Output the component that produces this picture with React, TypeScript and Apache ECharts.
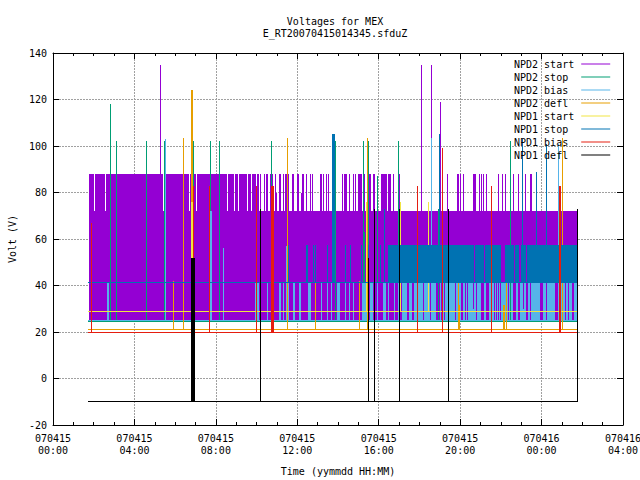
import React, { useEffect, useRef } from "react";
import * as echarts from "echarts";

const titleLines = ["Voltages for MEX", "E_RT20070415014345.sfduZ"];
const xName = "Time (yymmdd HH:MM)";
const yName = "Volt (V)";
const xTickDates = ["070415", "070415", "070415", "070415", "070415", "070415", "070416", "070416"];
const xTickTimes = ["00:00", "04:00", "08:00", "12:00", "16:00", "20:00", "00:00", "04:00"];
const timeStart = 1.72;
const timeEnd = 25.79;

// Hours since 070415 00:00; spikes are [t, top volts], blocks are [t0, t1, top volts].
const npd2StartSpikes = [[5.26, 135], [18.08, 135], [18.57, 135], [19.01, 119], [12.2, 80], [10.93, 80]];
const npd2StartBlocks = [
  [1.77, 25.74, 72],
  [1.77, 2.01, 88], [2.06, 2.55, 88], [2.6, 5.4, 88], [5.45, 6.68, 88], [6.73, 7.02, 88], [7.07, 8.55, 88],
  [8.6, 8.89, 88], [8.94, 9.09, 88], [9.14, 9.53, 88], [9.58, 9.73, 88], [9.77, 9.97, 88], [10.02, 10.12, 88],
  [10.17, 10.22, 88], [10.36, 10.41, 88], [10.46, 10.56, 88], [10.66, 10.81, 88], [10.9, 10.95, 88],
  [11.1, 11.2, 88], [11.3, 11.35, 88], [11.4, 11.59, 88], [11.74, 11.84, 88], [11.99, 12.08, 88],
  [12.23, 12.33, 88], [12.43, 12.48, 88], [12.62, 12.67, 88], [12.72, 12.77, 88], [13.12, 13.21, 88],
  [13.26, 13.31, 88], [13.41, 13.46, 88], [13.51, 13.56, 88], [13.8, 13.85, 88], [14.2, 14.24, 88],
  [14.29, 14.44, 88], [14.54, 14.59, 88], [14.74, 14.79, 88], [14.83, 14.88, 88], [14.98, 15.18, 88],
  [15.23, 15.33, 88], [15.42, 15.47, 88], [15.52, 15.62, 88], [15.72, 15.82, 88], [16.11, 16.41, 88],
  [16.46, 16.6, 88], [16.7, 16.75, 88], [16.95, 17.04, 88], [19.35, 19.4, 88], [19.84, 19.94, 88],
  [19.99, 20.04, 88], [20.14, 20.19, 88], [20.63, 20.78, 88], [20.92, 20.97, 88], [21.02, 21.07, 88],
  [21.12, 21.17, 88], [21.27, 21.32, 88], [21.86, 21.91, 88], [22.05, 22.1, 88], [22.2, 22.25, 88],
  [22.59, 22.64, 88], [22.84, 22.89, 88], [23.18, 23.23, 88], [23.43, 23.53, 88],
];
const npd2StopSpikes = [
  [2.8, 118], [3.09, 102], [4.57, 102], [5.45, 102], [6.88, 102], [7.71, 102], [8.15, 102], [10.71, 102],
  [13.85, 102], [15.23, 102], [15.28, 63], [15.47, 102], [15.91, 87], [16.95, 102], [18.91, 73], [22.45, 102],
];
const npd2BiasSpikes = [[5.5, 103], [8.35, 56], [11.49, 88], [18.57, 103.5], [24.81, 101]];
const npd2BiasBlocks = [
  [2.65, 2.75, 41], [7.71, 7.81, 72], [11.44, 11.59, 57],
  [9.92, 10.12, 41], [10.51, 10.56, 41], [11.1, 11.2, 41], [11.3, 11.35, 41], [11.79, 11.89, 41],
  [12.08, 12.18, 41], [12.53, 12.67, 41], [13.16, 13.21, 41], [13.46, 13.51, 41], [13.66, 13.7, 41],
  [13.95, 14.1, 41], [14.34, 14.39, 41], [14.54, 14.59, 41], [14.74, 14.79, 41], [15.18, 15.42, 41],
  [15.57, 15.72, 41], [15.91, 15.96, 41], [16.21, 16.36, 41], [16.46, 16.5, 41], [16.75, 16.8, 41],
  [16.95, 17.0, 41], [17.14, 17.39, 41], [17.49, 17.63, 41], [17.73, 18.17, 41], [18.22, 18.52, 41],
  [18.57, 18.81, 41], [19.01, 19.06, 41], [19.11, 19.21, 41], [19.26, 19.75, 41], [19.8, 20.04, 41],
  [20.14, 20.24, 41], [20.29, 20.34, 41], [20.38, 20.63, 41], [20.68, 20.78, 41], [20.63, 20.68, 30],
  [20.83, 21.02, 41], [21.17, 21.27, 41], [21.42, 21.66, 41], [21.71, 21.76, 41], [21.81, 21.86, 41],
  [21.91, 21.96, 41], [22.01, 22.35, 41], [22.4, 22.45, 41], [22.5, 22.59, 41], [22.74, 22.84, 41],
  [22.94, 23.09, 41], [23.09, 23.14, 30], [23.14, 23.23, 41], [23.33, 23.43, 41], [23.48, 23.92, 41],
  [24.07, 24.22, 41], [24.27, 24.66, 41], [24.81, 25.15, 41], [25.2, 25.3, 41], [25.35, 25.49, 41],
  [25.59, 25.74, 41],
];
const npd2DeflSpikes = [
  [5.89, 42], [6.39, 103.5], [11.49, 103.5], [12.87, 42], [15.03, 42], [15.42, 103.5], [19.89, 41], [22.25, 41], [25.0, 103.5],
];
const npd2DeflBlocks = [[6.78, 6.88, 124], [19.89, 19.99, 31.5], [22.1, 22.2, 31.5]];
const npd1StartSpikes = [[15.37, 76], [17.04, 76], [18.42, 76]];
const npd1StartBlocks = [[6.78, 6.88, 76]];
const npd1StopSpikes = [
  [10.71, 57.4], [11.54, 57.4], [12.77, 57.4], [12.87, 57.4], [13.46, 57.4], [14.34, 57.4], [14.59, 57.4], [15.13, 57.4],
  [15.47, 57.4], [16.06, 57.4], [16.26, 73], [18.96, 105], [23.04, 103], [23.73, 89], [24.22, 101],
];
const npd1StopBlocks = [
  [12.43, 12.53, 57.4], [13.7, 13.85, 105], [16.46, 20.68, 57.4], [20.73, 21.17, 57.4], [21.22, 22.01, 57.4],
  [22.2, 22.64, 57.4], [22.69, 22.89, 57.4], [22.99, 23.23, 57.4], [23.28, 25.79, 57.4],
];
const npd1BiasSpikes = [[1.87, 67], [6.88, 83], [7.66, 83], [9.97, 83], [17.88, 83], [19.11, 99], [21.51, 83]];
const npd1BiasBlocks = [[10.71, 10.86, 83], [24.85, 24.95, 83]];
const npd1DeflSpikes = [[10.17, 73], [15.47, 52], [15.77, 73], [17.0, 73], [19.4, 73], [25.74, 73]];
const npd1DeflBlocks = [[6.78, 6.98, 52]];

const seriesNames = ["NPD2 start", "NPD2 stop", "NPD2 bias", "NPD2 defl", "NPD1 start", "NPD1 stop", "NPD1 bias", "NPD1 defl"];
const seriesColors = ["#9400d3", "#009e73", "#56b4e9", "#e69f00", "#f0e442", "#0072b2", "#e51e10", "#000000"];
const seriesBases = [25.2, 24.7, 25.2, 21.3, 29, 41.5, 20, -9.7];
const seriesSpikes = [npd2StartSpikes, npd2StopSpikes, npd2BiasSpikes, npd2DeflSpikes, npd1StartSpikes, npd1StopSpikes, npd1BiasSpikes, npd1DeflSpikes];
const seriesBlocks = [npd2StartBlocks, [], npd2BiasBlocks, npd2DeflBlocks, npd1StartBlocks, npd1StopBlocks, npd1BiasBlocks, npd1DeflBlocks];

const FONT = "'DejaVu Sans Mono', monospace";

const renderMark = (_: any, api: any) => {
  const a = api.coord([api.value(0), api.value(3)]);
  const b = api.coord([api.value(1), api.value(2)]);
  const x0 = Math.round(a[0]);
  const x1 = Math.round(b[0]);
  const y0 = Math.round(a[1]);
  const y1 = Math.round(b[1]);
  return {
    type: "rect",
    shape: { x: x0, y: y0, width: Math.max(1, x1 - x0), height: Math.max(1, y1 - y0) },
    style: { fill: api.visual("color") },
  };
};

export default function App() {
  const ref = useRef<HTMLDivElement>(null);
  useEffect(() => {
    document.body.style.margin = "0";
    const chart = echarts.init(ref.current!, undefined, { renderer: "svg", width: 640, height: 480 });
    const axisLine = { show: true, onZero: false, lineStyle: { color: "#000", width: 1 } };
    const series = seriesNames.map((name, i) => ({
      name,
      type: "custom",
      renderItem: renderMark,
      encode: { x: [0, 1], y: [2, 3] },
      itemStyle: { color: seriesColors[i] },
      silent: true,
      clip: true,
      progressive: 0,
      data: [
        [timeStart, timeEnd, seriesBases[i], seriesBases[i]],
        ...seriesBlocks[i].map((b) => [b[0], b[1], seriesBases[i], b[2]]),
        ...seriesSpikes[i].map((s) => [s[0], s[0], seriesBases[i], s[1]]),
      ],
    }));
    chart.setOption({
      animation: false,
      backgroundColor: "#fff",
      textStyle: { fontFamily: FONT, fontSize: 10, color: "#000" },
      title: {
        text: titleLines.join("\n"),
        left: 335,
        top: 15,
        padding: 0,
        textAlign: "center",
        textStyle: { fontFamily: FONT, fontSize: 10, fontWeight: "normal", color: "#000", lineHeight: 12 },
      },
      legend: {
        orient: "vertical",
        left: 514,
        top: 59,
        padding: 0,
        align: "right",
        itemGap: 3,
        itemWidth: 29,
        itemHeight: 1,
        icon: "rect",
        data: seriesNames,
        selectedMode: false,
        formatter: (n: string) => n.padEnd(10, " "),
        textStyle: { fontFamily: FONT, fontSize: 10, color: "#000", lineHeight: 10, padding: [0, 2, 0, 0] },
      },
      grid: { left: 53, top: 53, width: 570, height: 372, containLabel: false, outerBoundsMode: "none" },
      xAxis: [
        {
          type: "value",
          min: 0,
          max: 28,
          interval: 4,
          name: xName,
          nameLocation: "middle",
          nameGap: 41,
          nameTextStyle: { fontFamily: FONT, fontSize: 10, color: "#000" },
          axisLine,
          axisTick: { show: true, inside: true, length: 6, lineStyle: { color: "#000" } },
          minorTick: { show: true, splitNumber: 4, length: 3, lineStyle: { color: "#000" } },
          axisLabel: {
            margin: 7,
            fontFamily: FONT,
            fontSize: 10,
            color: "#000",
            lineHeight: 12,
            hideOverlap: false,
            showMinLabel: true,
            showMaxLabel: true,
            formatter: (v: number) => `${xTickDates[v / 4]}\n${xTickTimes[v / 4]}`,
          },
          splitLine: { show: true, lineStyle: { color: "#a0a0a0", type: [2, 1], width: 1 } },
        },
        {
          type: "value",
          position: "top",
          min: 0,
          max: 28,
          interval: 4,
          axisLine,
          axisTick: { show: true, inside: true, length: 6, lineStyle: { color: "#000" } },
          minorTick: { show: true, splitNumber: 4, length: 3, lineStyle: { color: "#000" } },
          axisLabel: { show: false },
          splitLine: { show: false },
        },
      ],
      yAxis: [
        {
          type: "value",
          min: -20,
          max: 140,
          interval: 20,
          name: yName,
          nameLocation: "middle",
          nameGap: 36,
          nameRotate: 90,
          nameTextStyle: { fontFamily: FONT, fontSize: 10, color: "#000" },
          axisLine,
          axisTick: { show: true, inside: true, length: 6, lineStyle: { color: "#000" } },
          axisLabel: { margin: 6, fontFamily: FONT, fontSize: 10, color: "#000" },
          splitLine: { show: true, lineStyle: { color: "#a0a0a0", type: [2, 1], width: 1 } },
        },
        {
          type: "value",
          position: "right",
          min: -20,
          max: 140,
          interval: 20,
          axisLine,
          axisTick: { show: true, inside: true, length: 6, lineStyle: { color: "#000" } },
          axisLabel: { show: false },
          splitLine: { show: false },
        },
      ],
      series,
    });
    return () => chart.dispose();
  }, []);
  return <div ref={ref} style={{ width: 640, height: 480 }} />;
}
